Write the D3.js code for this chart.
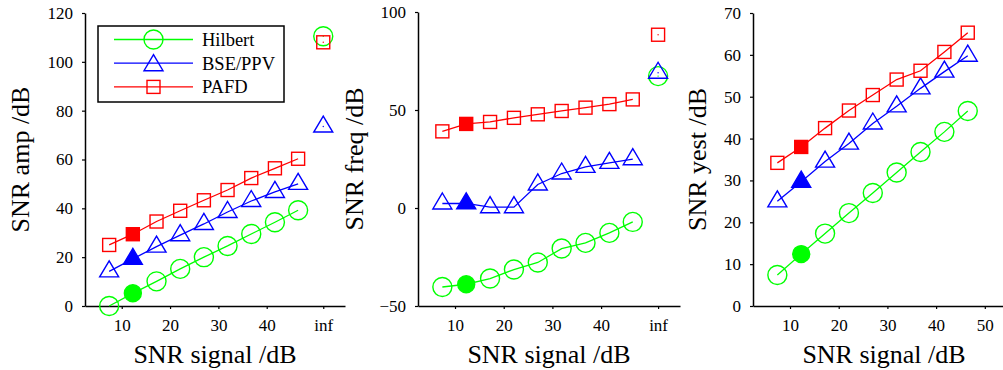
<!DOCTYPE html>
<html lang="en">
<head>
<meta charset="UTF-8">
<title>SNR comparison</title>
<script src="https://d3js.org/d3.v7.min.js"></script>
<style>
  body { margin: 0; background: #fff; }
  svg text { font-family: "Liberation Serif", "Times New Roman", serif; fill: #000; }
</style>
</head>
<body>
<svg id="chart" width="1003" height="370"></svg>
<script>
// signal SNR (dB) for the nine noise levels, plus the noise-free "inf" position
const snrSignal = [7.4, 12.3, 17.2, 22.1, 27.0, 31.9, 36.8, 41.7, 46.5];
const infPos = 51.7;
const filledIndex = 1;

const methods = ["Hilbert", "BSE/PPV", "PAFD"];

// SNR amp
const ampHilbert = [0, 5.2, 10.1, 15.2, 20, 24.6, 29.5, 34.3, 39.2];
const ampBse = [14.2, 19.3, 24.3, 29, 33.6, 38.5, 43, 46.7, 50];
const ampPafd = [25, 29.4, 34.6, 39, 43.3, 47.5, 52.4, 56.4, 60.3];
const ampInf = [110.5, 73.5, 108];

// SNR freq
const freqHilbert = [-40.3, -38.9, -36, -31.4, -27.8, -20.7, -17.8, -12.7, -7.1];
const freqBse = [2.3, 2.4, 0.4, 0.4, 12, 17.6, 21, 23, 24.9];
const freqPafd = [39.1, 42.9, 43.9, 46, 47.8, 49.5, 51.2, 53, 55.4];
const freqInf = [67.3, 69, 88.4];

// SNR yest
const yestHilbert = [7.4, 12.4, 17.3, 22.2, 27, 31.9, 36.8, 41.6, 46.6];
const yestBse = [25, 29.7, 34.5, 38.8, 43.6, 47.7, 52, 56, 59.8];
const yestPafd = [34.2, 38, 42.5, 46.7, 50.4, 54.1, 56.2, 60.7, 65.3];

const colors = ["#00ff00", "#0000ff", "#ff0000"];
const shapes = ["circle", "triangle", "square"];
const serif = "'Liberation Serif', 'Times New Roman', serif";

const svg = d3.select("#chart");
svg.append("rect").attr("width", 1003).attr("height", 370).attr("fill", "#fff");

function marker(g, shape, x, y, color, filled) {
  const fill = filled ? color : "none";
  if (shape === "circle") {
    g.append("circle").attr("cx", x).attr("cy", y).attr("r", filled ? 8.5 : 9.5)
      .attr("fill", fill).attr("stroke", color).attr("stroke-width", 1.4);
  } else if (shape === "square") {
    const s = 13;
    g.append("rect").attr("x", x - s / 2).attr("y", y - s / 2).attr("width", s).attr("height", s)
      .attr("fill", fill).attr("stroke", color).attr("stroke-width", 1.4);
  } else {
    g.append("path")
      .attr("d", `M${x},${y - 10.5}L${x + 9.5},${y + 5.5}L${x - 9.5},${y + 5.5}Z`)
      .attr("fill", fill).attr("stroke", color).attr("stroke-width", 1.4);
  }
}

function panel(cfg) {
  const x = d3.scaleLinear().domain([2.4, 56.2]).range([cfg.left, cfg.left + cfg.width]);
  const y = d3.scaleLinear().domain(cfg.yDomain).range([306, cfg.top]);
  const g = svg.append("g");

  // axes
  const xAxis = d3.axisBottom(x).tickValues(cfg.xTicks)
    .tickFormat(d => d === infPos ? "inf" : d)
    .tickSizeInner(3).tickSizeOuter(0).tickPadding(10);
  const gx = g.append("g").attr("transform", "translate(0,306)").call(xAxis);
  const yAxis = d3.axisLeft(y).tickValues(cfg.yTicks)
    .tickSizeInner(3).tickSizeOuter(0).tickPadding(9);
  const gy = g.append("g").attr("transform", `translate(${cfg.left},0)`).call(yAxis);
  [gx, gy].forEach(a => {
    a.attr("font-family", serif).attr("font-size", 17);
    a.select(".domain").attr("stroke", "#000").attr("stroke-width", 1.5);
    a.selectAll(".tick line").attr("stroke", "#000").attr("stroke-width", 1.2);
    a.selectAll(".tick text").attr("fill", "#000")
      .style("font-family", serif).style("font-size", "17px");
  });

  g.append("text").attr("x", (x.range()[0] + x.range()[1]) / 2).attr("y", 363)
    .attr("text-anchor", "middle").style("font-size", "26px").text("SNR signal /dB");
  g.append("text")
    .attr("transform", `translate(${cfg.labelX},${(306 + cfg.top) / 2}) rotate(-90)`)
    .attr("text-anchor", "middle").style("font-size", "26px").text(cfg.yLabel);

  const line = d3.line().x((d, i) => x(snrSignal[i])).y(d => y(d));
  cfg.series.forEach((vals, k) => {
    g.append("path").attr("d", line(vals)).attr("fill", "none")
      .attr("stroke", colors[k]).attr("stroke-width", 1.3);
    vals.forEach((v, i) => marker(g, shapes[k], x(snrSignal[i]), y(v), colors[k], i === filledIndex));
  });
  if (cfg.inf) {
    cfg.inf.forEach((v, k) => {
      marker(g, shapes[k], x(infPos), y(v), colors[k], false);
      g.append("circle").attr("cx", x(infPos)).attr("cy", y(v)).attr("r", 0.7).attr("fill", colors[k]);
    });
  }
  return g;
}

panel({
  left: 85, width: 260, top: 13, yDomain: [0, 120], yTicks: d3.range(0, 121, 20),
  xTicks: [10, 20, 30, 40, infPos], yLabel: "SNR amp /dB", labelX: 29,
  series: [ampHilbert, ampBse, ampPafd], inf: ampInf
});
panel({
  left: 418, width: 262, top: 12, yDomain: [-50, 100], yTicks: [-50, 0, 50, 100],
  xTicks: [10, 20, 30, 40, infPos], yLabel: "SNR freq /dB", labelX: 363,
  series: [freqHilbert, freqBse, freqPafd], inf: freqInf
});
panel({
  left: 753, width: 262, top: 13, yDomain: [0, 70], yTicks: d3.range(0, 71, 10),
  xTicks: [10, 20, 30, 40, 50], yLabel: "SNR yest /dB", labelX: 706,
  series: [yestHilbert, yestBse, yestPafd], inf: null
});

// legend in the first panel
const leg = svg.append("g");
leg.append("rect").attr("x", 98).attr("y", 26).attr("width", 186).attr("height", 76)
  .attr("fill", "#fff").attr("stroke", "#000").attr("stroke-width", 1.5);
methods.forEach((m, k) => {
  const ly = 39.5 + k * 23.7;
  leg.append("line").attr("x1", 114).attr("x2", 193).attr("y1", ly).attr("y2", ly)
    .attr("stroke", colors[k]).attr("stroke-width", 1.3);
  marker(leg, shapes[k], 153.5, k === 1 ? ly + 2 : ly, colors[k], false);
  leg.append("text").attr("x", 202).attr("y", ly + 6.5).style("font-size", "18.5px").text(m);
});
</script>
</body>
</html>
